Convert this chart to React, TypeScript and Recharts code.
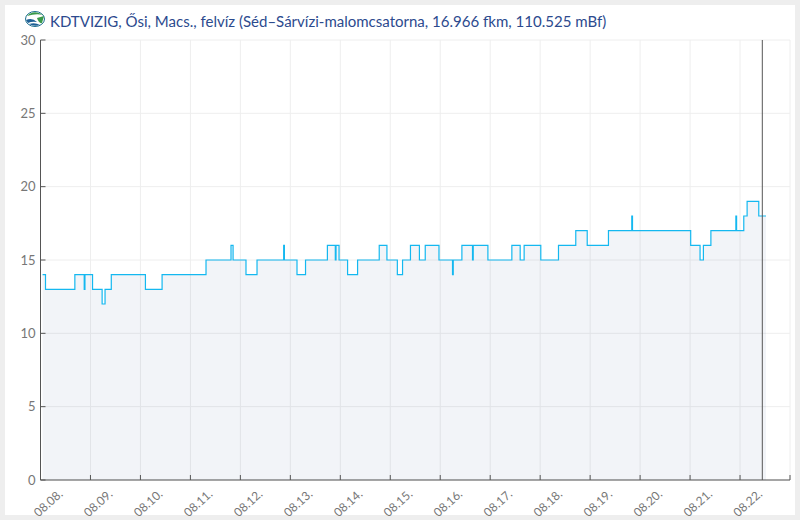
import { AreaChart, Area, XAxis, YAxis, CartesianGrid, ReferenceLine } from "recharts";

// hours since 08.08. 00:00 and water level at each change
const hours = [
  1, 2.4, 16.5, 21, 21.35, 25, 29.6, 31, 34, 50.4, 58.4, 79.5, 91.5, 92.5, 98.7, 104, 116.8, 117.15,
  123.2, 127.3, 137.8, 141.6, 141.95, 143.4, 147.5, 152.3, 162.7, 166.4, 171.4, 173.9, 177.7, 182,
  184.8, 191.4, 197.9, 198.25, 202.4, 207.5, 207.85, 214.9, 226.4, 230.4, 232.3, 240.3, 248.8, 257.1,
  262.6, 272.8, 284, 284.35, 312.3, 316.8, 318.4, 322, 334, 334.35, 337.8, 339.4, 345, 348.5,
];
const levels = [
  14, 13, 14, 13, 14, 13, 12, 13, 14, 13, 14, 15, 16, 15, 14, 15, 16, 15,
  14, 15, 16, 15, 16, 15, 14, 15, 16, 15, 14, 15, 16, 15,
  16, 15, 14, 15, 16, 15, 16, 15, 16, 15, 16, 15, 16, 17,
  16, 17, 18, 17, 16, 15, 16, 17, 18, 17, 18, 19, 18, 18,
];
const dayTicks = [0, 24, 48, 72, 96, 120, 144, 168, 192, 216, 240, 264, 288, 312, 336, 360];
const dayLabels = [
  "08.08.", "08.09.", "08.10.", "08.11.", "08.12.", "08.13.", "08.14.", "08.15.",
  "08.16.", "08.17.", "08.18.", "08.19.", "08.20.", "08.21.", "08.22.", "",
];
const levelTicks = [0, 5, 10, 15, 20, 25, 30];
const nowHour = 346.7;
const title = "KDTVIZIG, Ősi, Macs., felvíz (Séd–Sárvízi-malomcsatorna, 16.966 fkm, 110.525 mBf)";

const data = hours.map((h, i) => ({ h, v: levels[i] }));

const font = "Lato, sans-serif";

const DayTick = ({ x, index }: any) => {
  const label = dayLabels[index];
  if (!label) return null;
  return (
    <text
      x={x + 23}
      y={495}
      textAnchor="end"
      fontFamily={font}
      fontSize={12}
      fill="#777"
      transform={`rotate(-42 ${x + 23} 495)`}
    >
      {label}
    </text>
  );
};

const Logo = () => (
  <svg width={22} height={18} viewBox="0 0 22 18" style={{ position: "absolute", left: 24, top: 10 }}>
    <ellipse cx={11} cy={9} rx={9.5} ry={7.5} fill="#fff" stroke="#1d6f8f" strokeWidth={1} />
    <path d="M3 6 Q10 -1 19 5 Q12 3 3 6Z" fill="#3b9a4a" />
    <path d="M13 8 L20 6 L18 13 Q15 14 13 8Z" fill="#3b9a4a" />
    <path d="M2 10 Q8 7 13 12 Q8 11 4 13Z" fill="#1d5f95" />
    <path d="M5 14 Q11 12 16 15 Q10 17 5 14Z" fill="#1d5f95" />
  </svg>
);

export default function App() {
  return (
    <div style={{ position: "absolute", left: 0, top: 0, width: 800, height: 520, background: "#eeeeee", overflow: "hidden" }}>
      <div style={{ position: "absolute", left: 5, top: 5, width: 790, height: 510, background: "#fff" }} />
      <Logo />
      <div
        style={{
          position: "absolute",
          left: 50,
          top: 12,
          fontFamily: font,
          fontSize: 15.03,
          lineHeight: "18px",
          color: "#2c4a8e",
          whiteSpace: "nowrap",
        }}
      >
        {title}
      </div>
      <div style={{ position: "absolute", left: 0, top: 0 }}>
        <AreaChart width={800} height={520} data={data} margin={{ top: 40, right: 10, bottom: 0, left: 0 }}>
          <CartesianGrid stroke="#eeeeee" horizontal vertical />
          <XAxis
            dataKey="h"
            type="number"
            domain={[0, 360]}
            ticks={dayTicks}
            interval={0}
            height={40}
            stroke="#555"
            tickSize={-5}
            tick={<DayTick />}
          />
          <YAxis
            type="number"
            domain={[0, 30]}
            ticks={levelTicks}
            width={40.5}
            stroke="#555"
            tickSize={-5}
            tickMargin={10}
            tick={{ fontFamily: font, fontSize: 13, fill: "#777" }}
          />
          <Area
            type="stepAfter"
            dataKey="v"
            stroke="#14b8f0"
            strokeWidth={1.2}
            fill="#2a3f8f"
            fillOpacity={0.06}
            dot={false}
            isAnimationActive={false}
          />
          <ReferenceLine x={nowHour} stroke="#555" strokeWidth={1} />
        </AreaChart>
      </div>
    </div>
  );
}
